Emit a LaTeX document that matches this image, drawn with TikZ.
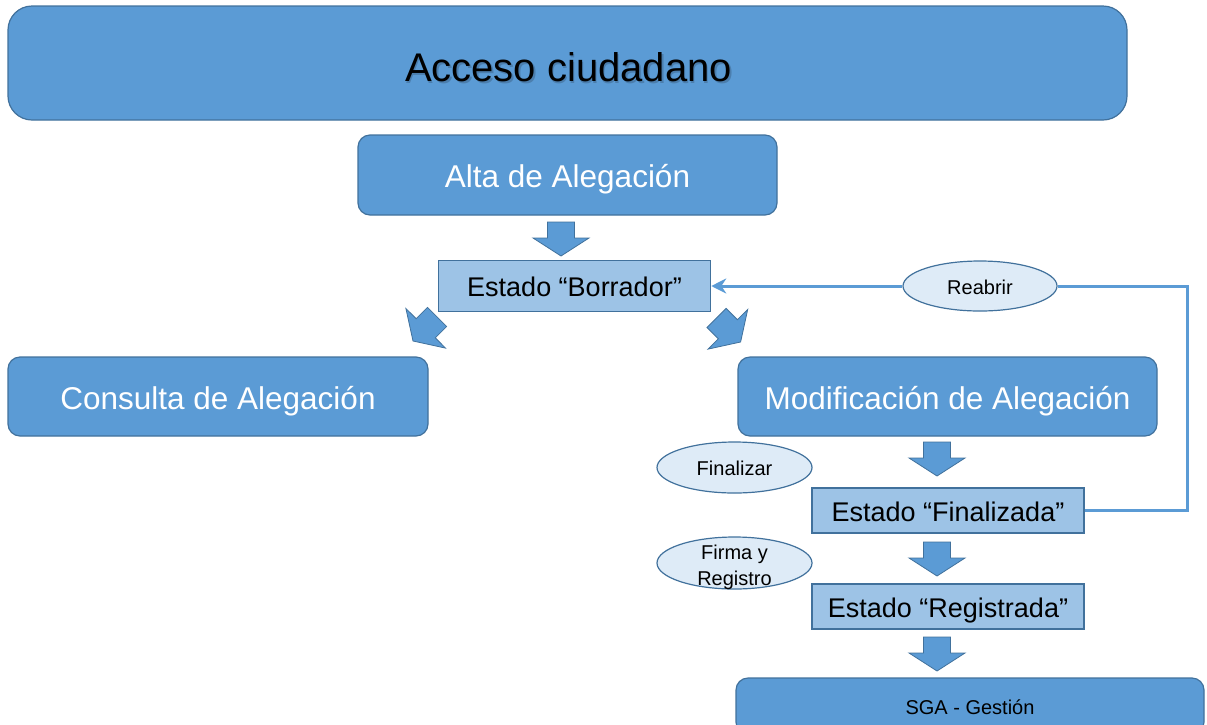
\documentclass[tikz,border=0pt]{standalone}
\usepackage{fontspec}
\setmainfont{Liberation Sans}
\usetikzlibrary{arrows.meta,shapes.geometric}
\definecolor{mainblue}{HTML}{5B9BD5}
\definecolor{edgeblue}{HTML}{41719C}
\definecolor{lightblue}{HTML}{9DC3E6}
\definecolor{paleblue}{HTML}{DEEBF7}
\definecolor{shadowgray}{HTML}{2E4A66}
\begin{document}
\begin{tikzpicture}[x=1pt,y=-1pt,
  bigbox/.style={draw=edgeblue,fill=mainblue,line width=1.2pt,rounded corners=12pt,
    inner sep=0pt,text=white},
  statebox/.style={draw=edgeblue,fill=lightblue,line width=1.5pt,inner sep=0pt,text=black},
  actell/.style={ellipse,draw=edgeblue,fill=paleblue,line width=1.2pt,inner sep=0pt,
    minimum width=155pt,minimum height=51pt,text=black},
  ftitle/.style={font=\fontsize{40}{48}\selectfont,text height=32pt,text depth=0pt},
  fbig/.style={font=\fontsize{31.5}{38}\selectfont,text height=25.2pt,text depth=0pt},
  fstate/.style={font=\fontsize{27}{32}\selectfont,text height=21.6pt,text depth=0pt},
  fsmall/.style={font=\fontsize{20}{24}\selectfont,text height=16pt,text depth=0pt},
  loopline/.style={draw=mainblue,line width=3pt},
  blockarr/.style={draw=edgeblue,fill=mainblue,line width=0.8pt},
  pics/barrow/.style={code={
    \draw[blockarr]
      (-13.5,-17) -- (13.5,-17) -- (13.5,-1) -- (28,-1) -- (0,17)
      -- (-28,-1) -- (-13.5,-1) -- cycle;}},
]
\useasboundingbox (0,0) rectangle (1207,724);

% top box
\node[bigbox,rounded corners=24pt,minimum width=1119pt,minimum height=114pt] (acc) at (567.5,63) {};
\node[ftitle,text=shadowgray,opacity=0.35,inner sep=0pt] (accsh) at (570,67) {Acceso ciudadano};
\node[ftitle,text=black,inner sep=0pt] (acct) at (568.5,65.5) {Acceso ciudadano};

% boxes
\node[bigbox,fbig,minimum width=419pt,minimum height=80pt] (alta) at (567.5,175) {Alta de Alegación};
\node[statebox,fstate,minimum width=272pt,minimum height=51pt] (bor) at (574.5,286) {Estado “Borrador”};
\node[bigbox,fbig,minimum width=420pt,minimum height=79pt] (cons) at (218,396.5) {Consulta de Alegación};
\node[bigbox,fbig,minimum width=419pt,minimum height=79pt] (modi) at (947.5,396.5) {Modificación de Alegación};
\node[statebox,fstate,minimum width=272pt,minimum height=45pt] (fin) at (948,510.5) {Estado “Finalizada”};
\node[statebox,fstate,minimum width=272pt,minimum height=45pt] (reg) at (948,606.5) {Estado “Registrada”};
\node[bigbox,fsmall,text=black,minimum width=468pt,minimum height=56pt] (sga) at (970,706) {SGA - Gestión};

% ellipses
\node[actell,fsmall,minimum width=154pt,minimum height=50pt] (reab) at (980,286) {Reabrir};
\node[actell,fsmall] (fina) at (734.5,467.5) {Finalizar};
\node[actell,minimum height=52pt] (firm) at (734.5,563) {};
\node[font=\fontsize{20}{26}\selectfont,align=center,inner sep=0pt] (firmt) at (734.5,567) {Firma y\\Registro};

% block arrows
\pic at (561,239) {barrow};
\draw[blockarr] (427.5,307.4) -- (446.6,326.5) -- (435.3,337.8) -- (445.5,348.1)
  -- (413,341) -- (405.9,308.5) -- (416.2,318.7) -- cycle;
\draw[blockarr] (707.0,327.5) -- (726.1,308.4) -- (737.4,319.7) -- (747.7,309.5)
  -- (740.6,342.0) -- (708.1,349.1) -- (718.3,338.8) -- cycle;
\pic at (937,459) {barrow};
\pic at (937,559) {barrow};
\pic at (937,654) {barrow};

% reopen loop
\coordinate (rc) at (1187,286);
\draw[loopline] (fin.east) -| (rc) -- (reab.east);
\draw[loopline,-{Stealth[length=15pt,width=15pt]}] (reab.west) -- (bor.east);
\end{tikzpicture}
\end{document}
